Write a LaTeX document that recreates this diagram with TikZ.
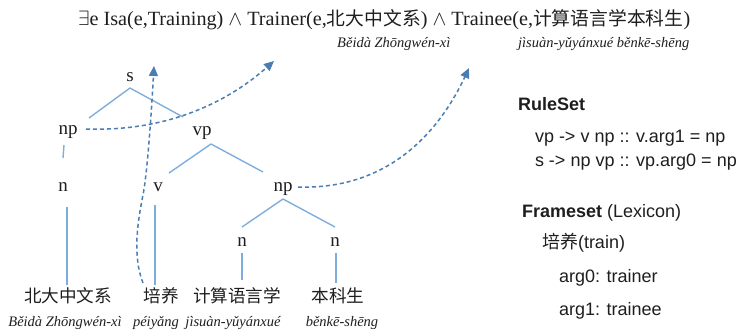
\documentclass[tikz,border=0pt]{standalone}
\usepackage{fontspec}
\setmainfont{Liberation Serif}
\newfontfamily\cjk{Noto Sans CJK SC}
\newfontfamily\arialf{Liberation Sans}
\usetikzlibrary{arrows.meta,calc}
\definecolor{treeblue}{HTML}{7FAEDD}
\definecolor{arrblue}{HTML}{4A7DB2}
\definecolor{ink}{HTML}{1E1E1E}
\begin{document}
\begin{tikzpicture}[x=1pt,y=-1pt,
  lab/.style={inner sep=0pt,outer sep=0pt,text height=8.6pt,text depth=0pt,font=\fontsize{19}{22}\selectfont,text=ink},
  word/.style={inner sep=0pt,outer sep=0pt,text height=15.5pt,text depth=2pt,font=\fontsize{17.6}{20}\selectfont\cjk,text=ink},
  py/.style={inner sep=0pt,outer sep=0pt,anchor=base,font=\fontsize{14.5}{17}\selectfont\itshape,text=ink},
  fml/.style={inner sep=0pt,outer sep=0pt,anchor=base west,font=\fontsize{20.2}{24}\selectfont,text=ink},
  fcjk/.style={fml,font=\fontsize{18.8}{22}\selectfont\cjk},
  rule/.style={inner sep=0pt,outer sep=0pt,anchor=base west,font=\fontsize{18}{22}\selectfont\arialf,text=ink},
  tree/.style={draw=treeblue,line width=1.4pt},
  dasharr/.style={draw=arrblue,line width=1.5pt,dash pattern=on 4pt off 3pt,-{Triangle[length=10pt,width=9pt]}}
]
\useasboundingbox (0,0) rectangle (744,331);

% formula
\node[fml] (f1) at (78,26) {$\exists$e Isa(e,Training) $\wedge$ Trainer(e,};
\node[fcjk] (f2) at (f1.base east) {北大中文系};
\node[fml] (f3) at (f2.base east) {) $\wedge$ Trainee(e,};
\node[fcjk] (f4) at (f3.base east) {计算语言学本科生};
\node[fml] (f5) at (f4.base east) {)};
\node[py] (fp1) at ($(f2.base)+(20,22)$) {Běidà Zhōngwén-xì};
\node[py,anchor=base east] (fp2) at ($(f5.base east)+(-1,22)$) {jìsuàn-yǔyánxué běnkē-shēng};

% tree labels
\node[lab] (s) at (130,77) {s};
\node[lab] (np1) at (68,130) {np};
\node[lab] (vp) at (202,131) {vp};
\node[lab] (n1) at (63,187) {n};
\node[lab] (v) at (158,187) {v};
\node[lab] (np2) at (283,187) {np};
\node[lab] (n2) at (242,242) {n};
\node[lab] (n3) at (335,242) {n};

% words
\node[word] (w1) at (68,296) {北大中文系};
\node[word] (w2) at (161,296) {培养};
\node[word] (w3) at (237,296) {计算语言学};
\node[word] (w4) at (338,296) {本科生};
\node[py] (p1) at (65,326) {Běidà Zhōngwén-xì};
\node[py] (p2) at (156,326) {péiyǎng};
\node[py] (p3) at (233,326) {jìsuàn-yǔyánxué};
\node[py] (p4) at (342,326) {běnkē-shēng};

% tree edges
\draw[tree] ($(s)+(0,11)$) -- ($(np1)+(21,-12)$);
\draw[tree] ($(s)+(0,11)$) -- ($(vp)+(-19,-14)$);
\draw[tree] ($(vp)+(9,13)$) -- ($(v)+(11,-14)$);
\draw[tree] ($(vp)+(9,13)$) -- ($(np2)+(-20,-15)$);
\draw[tree] ($(np2)+(0,12)$) -- ($(n2)+(0,-15)$);
\draw[tree] ($(np2)+(0,12)$) -- ($(n3)+(0,-15)$);
\draw[tree] ($(np1)+(-4,15)$) -- ($(n1)+(0,-29)$);
\draw[tree] ($(n1)+(4,20)$) -- ($(w1)+(-1,-11)$);
\draw[tree] ($(v)+(-3,18)$) -- ($(w2)+(-6,-11)$);
\draw[tree] ($(n2)+(0,11)$) -- ($(w3)+(5,-16)$);
\draw[tree] ($(n3)+(1,11)$) -- ($(w4)+(-2,-13)$);

% dashed arrows
\coordinate (t1) at (154,66);
\coordinate (t2) at (274,61);
\coordinate (t3) at (469,68);
\draw[dasharr] ($(w2)+(-18,-13)$) .. controls (132,255) and (138,220) .. (143,195)
   .. controls (147,175) and (151,120) .. (t1);
\draw[dasharr] ($(np1)+(18,-1)$) .. controls (170,132) and (230,100) .. (t2);
\draw[dasharr] ($(np2)+(15,0)$) .. controls (390,190) and (440,130) .. (t3);

% rule set
\node[rule,font=\fontsize{18}{22}\selectfont\arialf\bfseries] (rs) at (518,111) {RuleSet};
\node[rule] (r1) at (535,143) {vp -> v np :: v.arg1 = np};
\node[rule] (r2) at (535,167) {s -> np vp :: vp.arg0 = np};
\node[rule] (fs) at (522,218) {\textbf{Frameset} (Lexicon)};
\node[rule] (fr) at (542,248) {{\cjk 培养}(train)};
\node[rule] (a0) at (559,282) {arg0: trainer};
\node[rule] (a1) at (559,315) {arg1: trainee};
\end{tikzpicture}
\end{document}
